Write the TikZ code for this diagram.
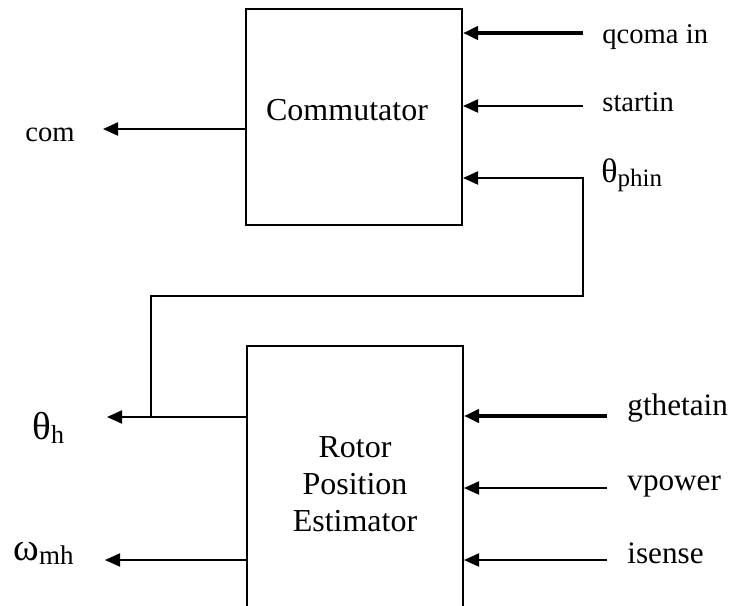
\documentclass[tikz,border=0pt]{standalone}
\usepackage{fontspec}
\setmainfont{Liberation Serif}
\usetikzlibrary{arrows.meta}

\newcommand{\sigsub}[4]{{\fontsize{#3}{#3}\selectfont #1}\raisebox{-0.35ex}{\fontsize{#4}{#4}\selectfont #2}}

\begin{document}
\begin{tikzpicture}[x=0.5pt,y=-0.5pt,
	block node/.style={draw,line width=1pt,minimum width=108pt,inner sep=0pt,font=\fontsize{16}{18.5}\selectfont,align=center},
	sig line/.style={line width=1pt,-{Triangle[length=7.5pt,width=6.5pt]}},
	bus line/.style={sig line,line width=2.2pt},
	label node/.style={inner sep=0pt,font=\fontsize{14.3}{16}\selectfont},
	big label node/.style={label node,font=\fontsize{15.6}{17}\selectfont}]

	\clip (0,0) rectangle (730,606);

	\node[block node,minimum height=108pt] (comm) at (354,117) {};
	\node[inner sep=0pt,font=\fontsize{16}{18.5}\selectfont] (commtext) at (347,110) {Commutator};
	\node[block node,minimum height=138pt] (rpe) at (355,484) {Rotor\\Position\\Estimator};

	% inputs of the commutator
	\coordinate (qin) at (583,33);
	\coordinate (stin) at (583,106);
	\coordinate (phin) at (583,178);
	\coordinate (turn) at (583,296);
	\node[label node,anchor=base west] (lqin) at (602,43) {qcoma in};
	\node[label node,anchor=base west] (lstin) at (602,111) {startin};
	\node[label node,anchor=base west] (lphin) at (601,182) {\sigsub{θ}{phin}{17}{12.5}};
	\draw[bus line] (qin) -- (qin -| comm.east);
	\draw[sig line] (stin) -- (stin -| comm.east);

	% output of the commutator
	\coordinate (comout) at (103,129);
	\node[label node,anchor=base west] (lcom) at (25,141) {com};
	\draw[sig line] (comout -| comm.west) -- (comout);

	% outputs of the estimator
	\coordinate (thout) at (107,417);
	\coordinate (omout) at (105,560);
	\coordinate (tap) at (151,417);
	\node[label node,anchor=base west] (lth) at (32,439) {\sigsub{θ}{h}{19.5}{13}};
	\node[label node,anchor=base west] (lom) at (13,560) {\sigsub{ω}{mh}{19.5}{13.5}};
	\draw[sig line] (thout -| rpe.west) -- (thout);
	\draw[sig line] (omout -| rpe.west) -- (omout);
	\draw[sig line] (tap) |- (turn) |- (phin -| comm.east);

	% inputs of the estimator
	\coordinate (gin) at (607,416);
	\coordinate (vin) at (607,488);
	\coordinate (iin) at (607,560);
	\node[big label node,anchor=base west] (lgin) at (627,415) {gthetain};
	\node[big label node,anchor=base west] (lvin) at (627,490) {vpower};
	\node[big label node,anchor=base west] (liin) at (627,563) {isense};
	\draw[bus line] (gin) -- (gin -| rpe.east);
	\draw[sig line] (vin) -- (vin -| rpe.east);
	\draw[sig line] (iin) -- (iin -| rpe.east);

\end{tikzpicture}
\end{document}
